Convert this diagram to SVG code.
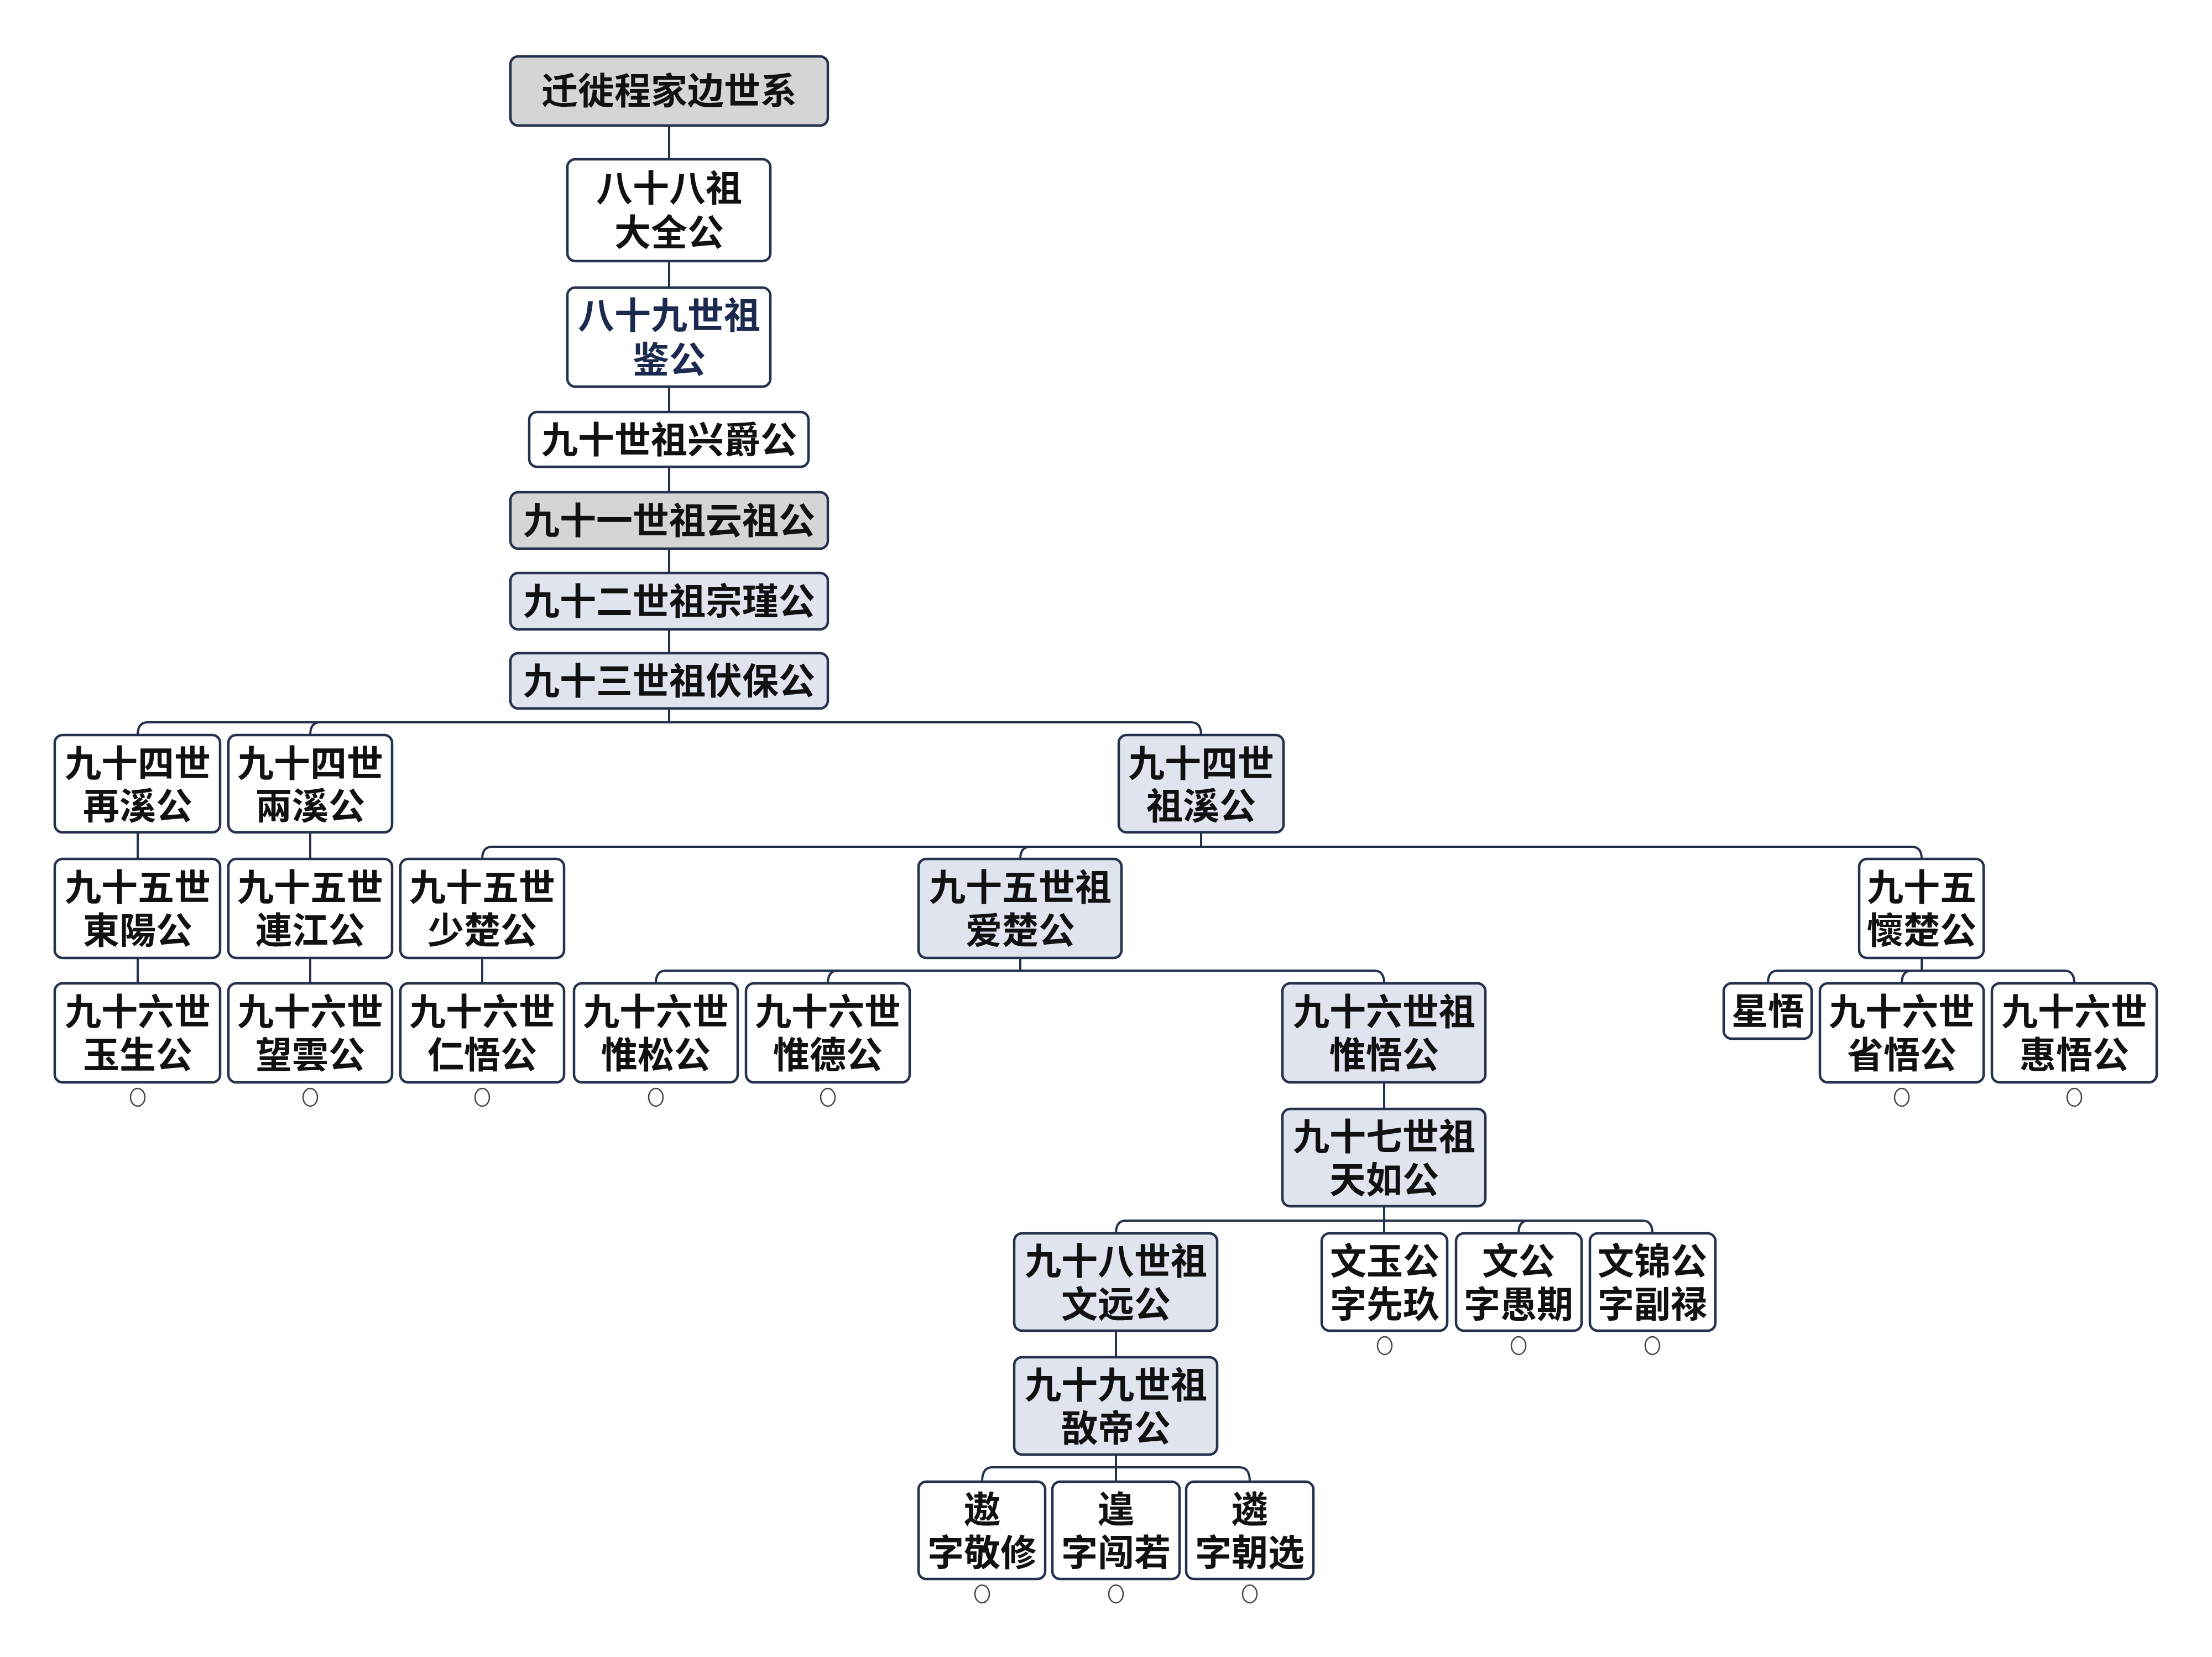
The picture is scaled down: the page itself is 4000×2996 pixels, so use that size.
<svg xmlns="http://www.w3.org/2000/svg" width="4000" height="2996" viewBox="0 0 4000 2996">
<style>
.b{stroke:#26314d;stroke-width:4.5;fill:#fff}
.g{fill:#d5d5d5}
.l{fill:#dfe4ef}
text{font-family:"Noto Sans CJK SC","Noto Sans CJK TC",sans-serif;font-weight:700;font-size:66px;fill:#111;text-anchor:middle}
.c path,.c line{stroke:#26314d;stroke-width:4;fill:none}
.o{fill:#fff;stroke:#444;stroke-width:2.5}
</style>
<rect width="4000" height="2996" fill="#fff"/>
<g class="c" id="connectors">
<line x1="1210" y1="227" x2="1210" y2="288"/>
<line x1="1210" y1="472" x2="1210" y2="520"/>
<line x1="1210" y1="699" x2="1210" y2="745"/>
<line x1="1210" y1="844" x2="1210" y2="890"/>
<line x1="1210" y1="992" x2="1210" y2="1036"/>
<line x1="1210" y1="1138" x2="1210" y2="1181"/>
<line x1="1210" y1="1281" x2="1210" y2="1306"/>
<path d="M249,1329 Q249,1306 267,1306 H2154 Q2172,1306 2172,1329"/>
<path d="M561,1329 Q561,1306 579,1306"/>
<line x1="249" y1="1505" x2="249" y2="1553"/>
<line x1="561" y1="1505" x2="561" y2="1553"/>
<line x1="2172" y1="1505" x2="2172" y2="1531"/>
<path d="M872,1553 Q872,1531 890,1531 H3457 Q3475,1531 3475,1553"/>
<path d="M1845,1553 Q1845,1531 1863,1531"/>
<line x1="249" y1="1732" x2="249" y2="1778"/>
<line x1="561" y1="1732" x2="561" y2="1778"/>
<line x1="872" y1="1732" x2="872" y2="1778"/>
<line x1="1845" y1="1732" x2="1845" y2="1755"/>
<path d="M1186,1778 Q1186,1755 1204,1755 H2485 Q2503,1755 2503,1778"/>
<path d="M1497,1778 Q1497,1755 1515,1755"/>
<line x1="3475" y1="1732" x2="3475" y2="1755"/>
<path d="M3197,1778 Q3197,1755 3215,1755 H3733 Q3751,1755 3751,1778"/>
<path d="M3439,1778 Q3439,1755 3457,1755"/>
<line x1="2503" y1="1957" x2="2503" y2="2005"/>
<line x1="2503" y1="2181" x2="2503" y2="2230"/>
<path d="M2018,2230 Q2018,2207 2036,2207 H2970 Q2988,2207 2988,2230"/>
<path d="M2746,2230 Q2746,2207 2764,2207"/>
<line x1="2018" y1="2406" x2="2018" y2="2454"/>
<line x1="2018" y1="2630" x2="2018" y2="2679"/>
<path d="M1776,2679 Q1776,2653 1794,2653 H2242 Q2260,2653 2260,2679"/>
</g>
<g id="n0"><rect class="b g" x="923" y="102" width="574" height="125" rx="14"/><text x="1210" y="188">迁徙程家边世系</text></g>
<g id="n1"><rect class="b" x="1026" y="288" width="367" height="184" rx="14"/><text x="1210" y="364">八十八祖</text><text x="1210" y="444">大全公</text></g>
<g id="n2"><rect class="b" x="1026" y="520" width="367" height="179" rx="14"/><text x="1210" y="594" style="fill:#1d2a50">八十九世祖</text><text x="1210" y="674" style="fill:#1d2a50">鉴公</text></g>
<g id="n3"><rect class="b" x="957" y="745" width="505" height="99" rx="14"/><text x="1210" y="819">九十世祖兴爵公</text></g>
<g id="n4"><rect class="b g" x="923" y="890" width="574" height="102" rx="14"/><text x="1210" y="965">九十一世祖云祖公</text></g>
<g id="n5"><rect class="b l" x="923" y="1036" width="574" height="102" rx="14"/><text x="1210" y="1111">九十二世祖宗瑾公</text></g>
<g id="n6"><rect class="b l" x="923" y="1181" width="574" height="100" rx="14"/><text x="1210" y="1255">九十三世祖伏保公</text></g>
<g id="n7"><rect class="b" x="99" y="1329" width="299" height="176" rx="14"/><text x="249" y="1404">九十四世</text><text x="249" y="1481">再溪公</text></g>
<g id="n8"><rect class="b" x="413" y="1329" width="296" height="176" rx="14"/><text x="561" y="1404">九十四世</text><text x="561" y="1481">兩溪公</text></g>
<g id="n9"><rect class="b l" x="2023" y="1329" width="298" height="176" rx="14"/><text x="2172" y="1404">九十四世</text><text x="2172" y="1481">祖溪公</text></g>
<g id="n10"><rect class="b" x="99" y="1553" width="299" height="179" rx="14"/><text x="249" y="1628">九十五世</text><text x="249" y="1706">東陽公</text></g>
<g id="n11"><rect class="b" x="413" y="1553" width="296" height="179" rx="14"/><text x="561" y="1628">九十五世</text><text x="561" y="1706">連江公</text></g>
<g id="n12"><rect class="b" x="724" y="1553" width="296" height="179" rx="14"/><text x="872" y="1628">九十五世</text><text x="872" y="1706">少楚公</text></g>
<g id="n13"><rect class="b l" x="1661" y="1553" width="367" height="179" rx="14"/><text x="1845" y="1628">九十五世祖</text><text x="1845" y="1706">爱楚公</text></g>
<g id="n14"><rect class="b" x="3362" y="1553" width="225" height="179" rx="14"/><text x="3475" y="1628">九十五</text><text x="3475" y="1706">懷楚公</text></g>
<g id="n15"><rect class="b" x="99" y="1778" width="299" height="179" rx="14"/><text x="249" y="1853">九十六世</text><text x="249" y="1931">玉生公</text></g>
<g id="n16"><rect class="b" x="413" y="1778" width="296" height="179" rx="14"/><text x="561" y="1853">九十六世</text><text x="561" y="1931">望雲公</text></g>
<g id="n17"><rect class="b" x="724" y="1778" width="296" height="179" rx="14"/><text x="872" y="1853">九十六世</text><text x="872" y="1931">仁悟公</text></g>
<g id="n18"><rect class="b" x="1038" y="1778" width="296" height="179" rx="14"/><text x="1186" y="1853">九十六世</text><text x="1186" y="1931">惟松公</text></g>
<g id="n19"><rect class="b" x="1349" y="1778" width="296" height="179" rx="14"/><text x="1497" y="1853">九十六世</text><text x="1497" y="1931">惟德公</text></g>
<g id="n20"><rect class="b l" x="2319" y="1778" width="367" height="179" rx="14"/><text x="2503" y="1853">九十六世祖</text><text x="2503" y="1931">惟悟公</text></g>
<g id="n21"><rect class="b" x="3117" y="1778" width="159" height="100" rx="14"/><text x="3197" y="1852">星悟</text></g>
<g id="n22"><rect class="b" x="3291" y="1778" width="296" height="179" rx="14"/><text x="3439" y="1853">九十六世</text><text x="3439" y="1931">省悟公</text></g>
<g id="n23"><rect class="b" x="3602" y="1778" width="298" height="179" rx="14"/><text x="3751" y="1853">九十六世</text><text x="3751" y="1931">惠悟公</text></g>
<g id="n24"><rect class="b l" x="2319" y="2005" width="367" height="176" rx="14"/><text x="2503" y="2079">九十七世祖</text><text x="2503" y="2157">天如公</text></g>
<g id="n25"><rect class="b l" x="1834" y="2230" width="367" height="176" rx="14"/><text x="2018" y="2304">九十八世祖</text><text x="2018" y="2382">文远公</text></g>
<g id="n26"><rect class="b" x="2390" y="2230" width="227" height="176" rx="14"/><text x="2504" y="2304">文玉公</text><text x="2504" y="2382">字先玖</text></g>
<g id="n27"><rect class="b" x="2633" y="2230" width="227" height="176" rx="14"/><text x="2746" y="2304">文公</text><text x="2746" y="2382">字愚期</text></g>
<g id="n28"><rect class="b" x="2875" y="2230" width="227" height="176" rx="14"/><text x="2988" y="2304">文锦公</text><text x="2988" y="2382">字副禄</text></g>
<g id="n29"><rect class="b l" x="1834" y="2454" width="367" height="176" rx="14"/><text x="2018" y="2528">九十九世祖</text><text x="2018" y="2606">敔帝公</text></g>
<g id="n30"><rect class="b" x="1661" y="2679" width="229" height="176" rx="14"/><text x="1776" y="2753">遨</text><text x="1776" y="2831">字敬修</text></g>
<g id="n31"><rect class="b" x="1903" y="2679" width="230" height="176" rx="14"/><text x="2018" y="2753">遑</text><text x="2018" y="2831">字闯若</text></g>
<g id="n32"><rect class="b" x="2145" y="2679" width="230" height="176" rx="14"/><text x="2260" y="2753">遴</text><text x="2260" y="2831">字朝选</text></g>
<g id="markers">
<ellipse class="o" cx="249" cy="1984" rx="13" ry="16"/>
<ellipse class="o" cx="561" cy="1984" rx="13" ry="16"/>
<ellipse class="o" cx="872" cy="1984" rx="13" ry="16"/>
<ellipse class="o" cx="1186" cy="1984" rx="13" ry="16"/>
<ellipse class="o" cx="1497" cy="1984" rx="13" ry="16"/>
<ellipse class="o" cx="3439" cy="1984" rx="13" ry="16"/>
<ellipse class="o" cx="3751" cy="1984" rx="13" ry="16"/>
<ellipse class="o" cx="2504" cy="2433" rx="13" ry="16"/>
<ellipse class="o" cx="2746" cy="2433" rx="13" ry="16"/>
<ellipse class="o" cx="2988" cy="2433" rx="13" ry="16"/>
<ellipse class="o" cx="1776" cy="2882" rx="13" ry="16"/>
<ellipse class="o" cx="2018" cy="2882" rx="13" ry="16"/>
<ellipse class="o" cx="2260" cy="2882" rx="13" ry="16"/>
</g>
</svg>
